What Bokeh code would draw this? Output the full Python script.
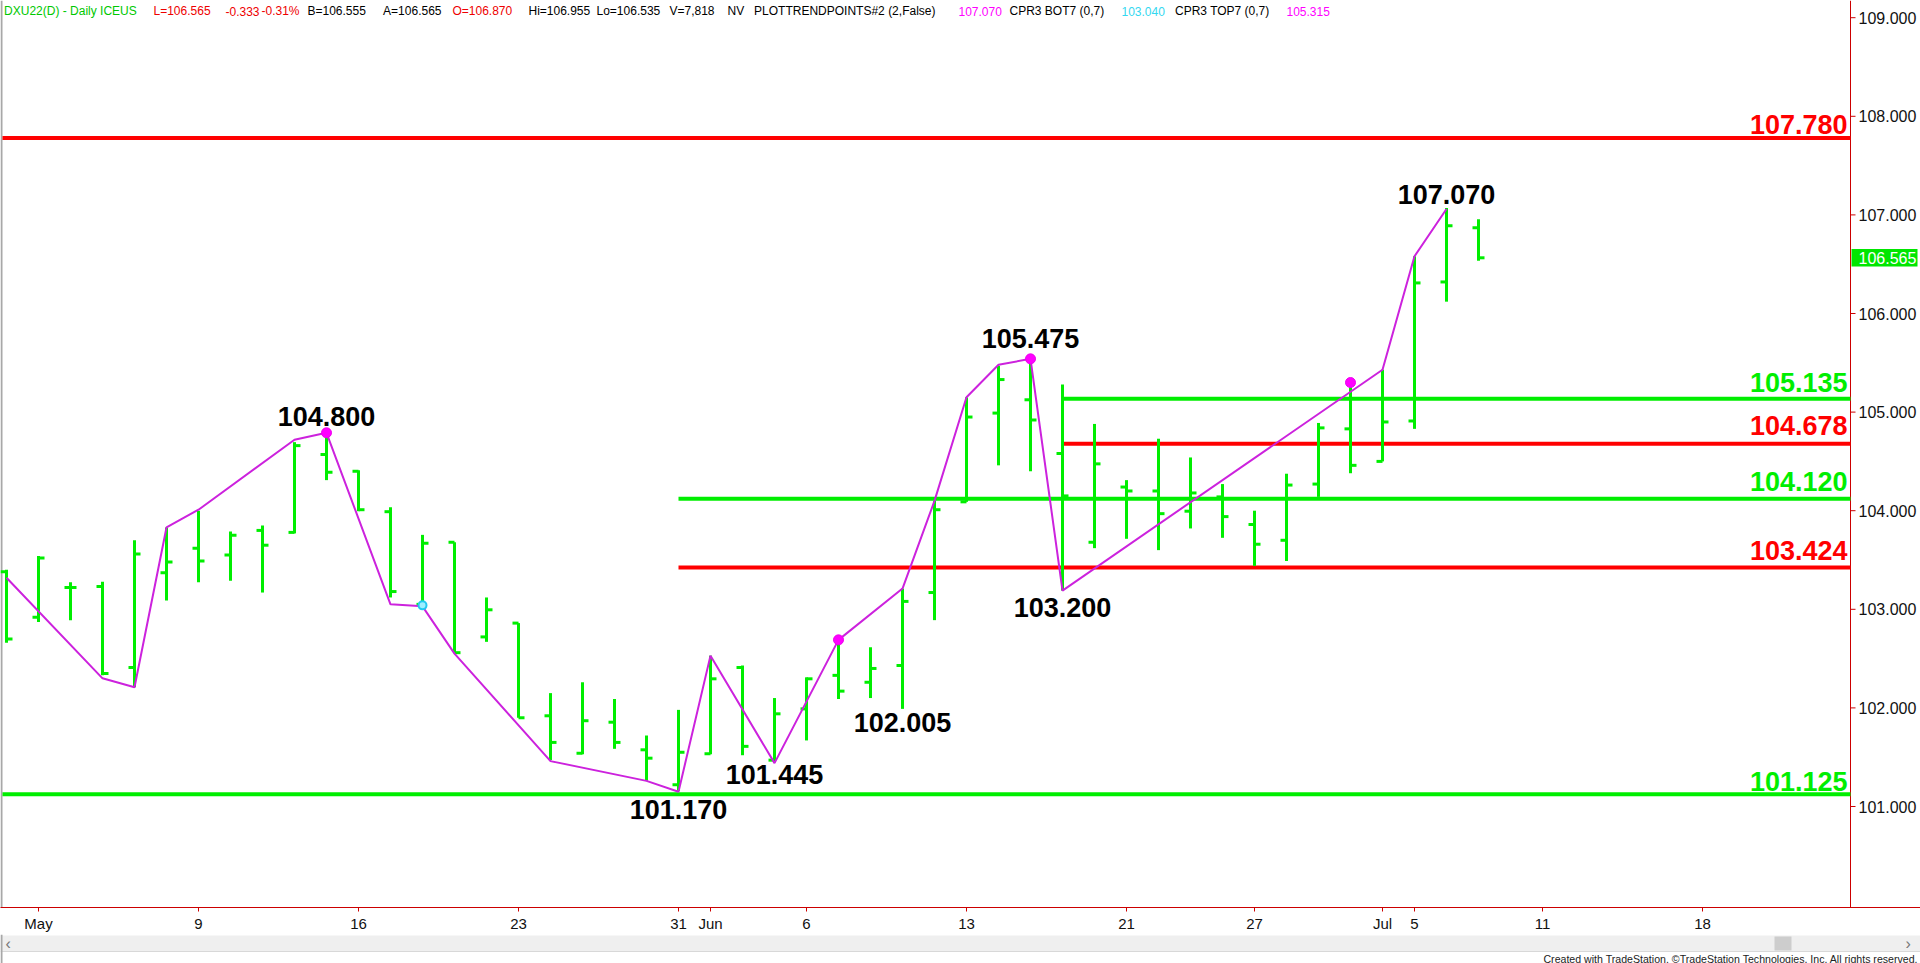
from bokeh.plotting import figure
from bokeh.models import Range1d, FixedTicker
from bokeh.layouts import column
from bokeh.embed import file_html
from bokeh.resources import INLINE
from bokeh.core.properties import value

# ---------------- data ----------------
dates = ["Apr 29", "May 2", "May 3", "May 4", "May 5", "May 6", "May 9", "May 10",
         "May 11", "May 12", "May 13", "May 16", "May 17", "May 18", "May 19", "May 20",
         "May 23", "May 24", "May 25", "May 26", "May 27", "May 31", "Jun 1", "Jun 2",
         "Jun 3", "Jun 6", "Jun 7", "Jun 8", "Jun 9", "Jun 10", "Jun 13", "Jun 14",
         "Jun 15", "Jun 16", "Jun 17", "Jun 21", "Jun 22", "Jun 23", "Jun 24", "Jun 27",
         "Jun 28", "Jun 29", "Jun 30", "Jul 1", "Jul 5", "Jul 6", "Jul 7"]
opens = [103.38, 102.92, 103.22, 103.23, 102.41, 103.37, 103.62, 103.55,
         103.80, 103.78, 104.57, 104.40, 103.99, 103.05, 103.68, 102.72,
         102.86, 101.92, 101.54, 101.855, 101.575, 101.22, 101.535, 102.41,
         101.47, 101.99, 102.33, 102.26, 102.43, 103.17, 104.09, 104.99,
         105.125, 104.58, 103.68, 104.24, 104.20, 103.995, 104.14, 103.86,
         103.70, 104.27, 104.83, 104.50, 104.91, 106.32, 106.870]
highs = [103.40, 103.54, 103.275, 103.28, 103.70, 103.83, 104.00, 103.79,
         103.85, 104.695, 104.78, 104.41, 104.035, 103.755, 103.68, 103.12,
         102.86, 102.15, 102.26, 102.09, 101.72, 101.98, 102.53, 102.43,
         102.10, 102.31, 102.67, 102.615, 103.21, 104.10, 105.15, 105.47,
         105.54, 105.28, 104.88, 104.31, 104.73, 104.54, 104.27, 104.00,
         104.375, 104.89, 105.26, 105.43, 106.58, 107.07, 106.955]
lows = [102.66, 102.87, 102.89, 102.33, 102.21, 103.09, 103.275, 103.29,
        103.17, 103.77, 104.31, 103.995, 103.12, 103.03, 102.555, 102.67,
        101.90, 101.47, 101.53, 101.585, 101.26, 101.16, 101.53, 101.52,
        101.45, 101.67, 102.09, 102.10, 101.99, 102.89, 104.09, 104.46,
        104.40, 103.19, 103.62, 103.715, 103.60, 103.82, 103.725, 103.44,
        103.49, 104.14, 104.38, 104.50, 104.83, 106.12, 106.535]
closes = [102.70, 103.52, 103.22, 102.35, 103.56, 103.48, 103.49, 103.75,
          103.65, 104.66, 104.39, 104.01, 103.18, 103.67, 102.56, 102.995,
          101.90, 101.65, 101.87, 101.65, 101.49, 101.55, 102.295, 101.61,
          101.94, 102.295, 102.17, 102.40, 103.08, 104.01, 104.95, 105.33,
          104.92, 104.15, 104.475, 104.20, 103.97, 104.18, 103.94, 103.66,
          104.26, 104.84, 104.46, 104.90, 106.31, 106.89, 106.565]

# PLOTTRENDPOINTS swing line (bar index, price)
swing_idx = [0, 3, 4, 5, 6, 9, 10, 12, 13, 14, 17, 20, 21, 22, 24, 26, 28, 29, 30,
             31, 32, 33, 43, 44, 45]
swing_px = [103.32, 102.30, 102.21, 103.83, 104.01, 104.72, 104.79, 103.05, 103.03,
            102.55, 101.46, 101.26, 101.15, 102.53, 101.44, 102.69, 103.21, 104.10,
            105.15, 105.48, 105.54, 103.19, 105.43, 106.58, 107.06]
trend_dot_idx = [10, 26, 32, 42]
trend_dot_px = [104.79, 102.69, 105.54, 105.30]
cpr_dot_idx = [13]
cpr_dot_px = [103.04]

# horizontal levels
level_values = [107.780, 105.135, 104.678, 104.120, 103.424, 101.125]
level_kind = ["red", "green", "red", "green", "red", "green"]
level_start_idx = [None, 33, 33, 21, 21, None]

# swing annotations
note_text = ["104.800", "105.475", "107.070", "103.200", "101.170", "101.445", "102.005"]
note_idx = [10, 32, 45, 33, 21, 24, 28]
note_side = ["high", "high", "high", "low", "low", "low", "low"]

# axes
date_tick_idx = [1, 6, 11, 16, 21, 22, 25, 30, 35, 39, 43, 44, 48, 53]
date_tick_labels = ["May", "9", "16", "23", "31", "Jun", "6", "13", "21", "27", "Jul", "5", "11", "18"]
price_ticks = [101, 102, 103, 104, 105, 106, 107, 108, 109]
last_price = 106.565

header_parts = [
    ("DXU22(D) - Daily  ICEUS", "hdr_green", 3.6),
    ("L=106.565", "hdr_red", 153),
    ("-0.333", "hdr_red", 225),
    ("-0.31%", "hdr_red", 261),
    ("B=106.555", "black", 307),
    ("A=106.565", "black", 382.6),
    ("O=106.870", "hdr_red", 452),
    ("Hi=106.955", "black", 528),
    ("Lo=106.535", "black", 596),
    ("V=7,818", "black", 669),
    ("NV", "black", 727),
    ("PLOTTRENDPOINTS#2 (2,False)", "black", 753.6),
    ("107.070", "magenta", 958),
    ("CPR3 BOT7 (0,7)", "black", 1009),
    ("103.040", "cyan", 1121),
    ("CPR3 TOP7 (0,7)", "black", 1174.5),
    ("105.315", "magenta", 1286),
]

# ---------------- layout / style ----------------
W, H = 1920, 963
FONT = "Liberation Sans"
GREEN = "#00EE00"
RED = "#FF0000"
AXIS_RED = "#CC0000"
SWING = "#CC22DD"
COLORS = {"green": GREEN, "red": RED, "black": "#000000", "hdr_green": "#00C800",
          "hdr_red": "#EE0000", "magenta": "#FF00FF", "cyan": "#33D8F0"}

PX_PER_BAR = 32.0       # horizontal bar spacing
BAR0_X = 6.0            # screen x of first bar
PX_PER_UNIT = 98.6      # vertical px per 1.000
Y_AT_101 = 806.0        # screen y of 101.000
FRAME_B = 907           # bottom of the price pane
SCALE_X = 1850          # screen x of the price scale line

def dx(px):
    return px / PX_PER_BAR

def dy(px):
    return px / PX_PER_UNIT

x_start = (0 - BAR0_X) / PX_PER_BAR
x_end = (W - BAR0_X) / PX_PER_BAR
x_scale = (SCALE_X - BAR0_X) / PX_PER_BAR
y_start = 101 - (FRAME_B - Y_AT_101) / PX_PER_UNIT
y_end = 101 + Y_AT_101 / PX_PER_UNIT

p = figure(frame_width=W, frame_height=FRAME_B,
           x_range=Range1d(x_start, x_end), y_range=Range1d(y_start, y_end),
           x_axis_location="below", y_axis_location=None,
           toolbar_location=None, output_backend="svg",
           min_border_left=0, min_border_top=0, min_border_right=0, min_border_bottom=0)
p.outline_line_color = None
p.grid.visible = False
p.background_fill_color = "white"
p.border_fill_color = "white"

# date axis
xa = p.xaxis[0]
xa.ticker = FixedTicker(ticks=date_tick_idx)
xa.major_label_overrides = {t: l for t, l in zip(date_tick_idx, date_tick_labels)}
xa.axis_line_color = AXIS_RED
xa.axis_line_width = 1
xa.major_tick_line_color = AXIS_RED
xa.major_tick_in = 0
xa.major_tick_out = 4
xa.minor_tick_line_color = None
xa.major_label_text_font = FONT
xa.major_label_text_font_size = "15px"
xa.major_label_text_color = "#111111"
xa.major_label_standoff = 3

# left window edge
p.segment(x0=[x_start + dx(1)], y0=[y_start], x1=[x_start + dx(1)], y1=[y_end],
          line_color="#A8A8A8", line_width=2)

# price scale (drawn in the pane, TradeStation style)
p.segment(x0=[x_scale], y0=[y_start], x1=[x_scale], y1=[y_end], line_color=AXIS_RED, line_width=1)
p.segment(x0=[x_scale] * len(price_ticks), y0=price_ticks,
          x1=[x_scale + dx(5)] * len(price_ticks), y1=price_ticks,
          line_color=AXIS_RED, line_width=1)
p.text(x=[x_scale + dx(8)] * len(price_ticks), y=price_ticks,
       text=[f"{t:.3f}" for t in price_ticks], text_align="left", text_baseline="middle",
       text_font=value(FONT), text_font_size="16px", text_color="#111111")
# last price marker
p.quad(left=[x_scale + dx(1)], right=[x_scale + dx(67)],
       top=[last_price + dy(8.8)], bottom=[last_price - dy(8.8)],
       fill_color="#00E600", line_color=None)
p.text(x=[x_scale + dx(8)], y=[last_price], text=[f"{last_price:.3f}"],
       text_align="left", text_baseline="middle", text_font=value(FONT),
       text_font_size="16px", text_color="white")

# horizontal levels
label_rise = [13, 16.5, 18, 17, 17, 13]
for v, k, s, r in zip(level_values, level_kind, level_start_idx, label_rise):
    col = COLORS[k]
    x0 = x_start + dx(2) if s is None else s
    p.segment(x0=[x0], y0=[v], x1=[x_scale], y1=[v], line_color=col, line_width=4)
    p.text(x=[x_scale - dx(3)], y=[v + dy(r)], text=[f"{v:.3f}"],
           text_align="right", text_baseline="middle", text_font=value(FONT),
           text_font_size="27px", text_font_style="bold", text_color=col)

# OHLC bars
idx = list(range(len(dates)))
TICK = dx(6)
p.segment(x0=idx, y0=lows, x1=idx, y1=highs, line_color=GREEN, line_width=3)
p.segment(x0=[i - TICK for i in idx], y0=opens, x1=idx, y1=opens, line_color=GREEN, line_width=3)
p.segment(x0=idx, y0=closes, x1=[i + TICK for i in idx], y1=closes, line_color=GREEN, line_width=3)

# swing line and dots
p.line(swing_idx, swing_px, line_color=SWING, line_width=2)
p.scatter(trend_dot_idx, trend_dot_px, size=10, fill_color="#FF00FF", line_color="#EE00EE")
p.scatter(cpr_dot_idx, cpr_dot_px, size=8, fill_color="#9EEFFF", line_color="#22C8F0", line_width=2)

# swing annotations (text centre offsets from the bar extreme, px, + is up)
note_shift = [17.4, 19.9, 13.3, -16.9, -18.4, -12.6, -13.3]
for t, i, side, sh in zip(note_text, note_idx, note_side, note_shift):
    base = highs[i] if side == "high" else lows[i]
    p.text(x=[i], y=[base + dy(sh)], text=[t], text_align="center", text_baseline="middle",
           text_font=value(FONT), text_font_size="27px", text_font_style="bold",
           text_color="#000000")

# header line
for t, k, xr in header_parts:
    p.text(x=[x_start + dx(xr)], y=[y_end - dy(10.5)], text=[t], text_align="left",
           text_baseline="middle", text_font=value(FONT), text_font_size="12px",
           text_color=COLORS[k])

# ---------------- footer (scrollbar + credit) ----------------
FH = 30
f = figure(width=W, height=FH, x_range=Range1d(0, W), y_range=Range1d(0, FH),
           toolbar_location=None, output_backend="svg", min_border=0)
f.axis.visible = False
f.grid.visible = False
f.outline_line_color = None
f.background_fill_color = "white"
f.quad(left=[0], right=[W], top=[FH - 1], bottom=[FH - 17], fill_color="#EFEFEF",
       line_color=None)
f.segment(x0=[0], y0=[FH - 17], x1=[W], y1=[FH - 17], line_color="#D8D8D8", line_width=1)
f.quad(left=[1774], right=[1791], top=[FH - 2], bottom=[FH - 16],
       fill_color="#CDCDCD", line_color=None)
f.quad(left=[0], right=[2], top=[FH], bottom=[0], fill_color="#A8A8A8", line_color=None)
f.text(x=[5, 1905], y=[FH - 9, FH - 9], text=["\u2039", "\u203a"], text_baseline="middle",
       text_font=value(FONT), text_font_size="16px", text_color="#777777")
f.text(x=[W - 2], y=[FH - 24.5], text=["Created with TradeStation. \u00a9TradeStation Technologies, Inc. All rights reserved."],
       text_align="right", text_baseline="middle",
       text_font=value(FONT), text_font_size="10.6px", text_color="#222222")

layout = column(p, f, spacing=0)
open("out.html", "w").write(file_html(layout, INLINE, title="DXU22 Daily"))
